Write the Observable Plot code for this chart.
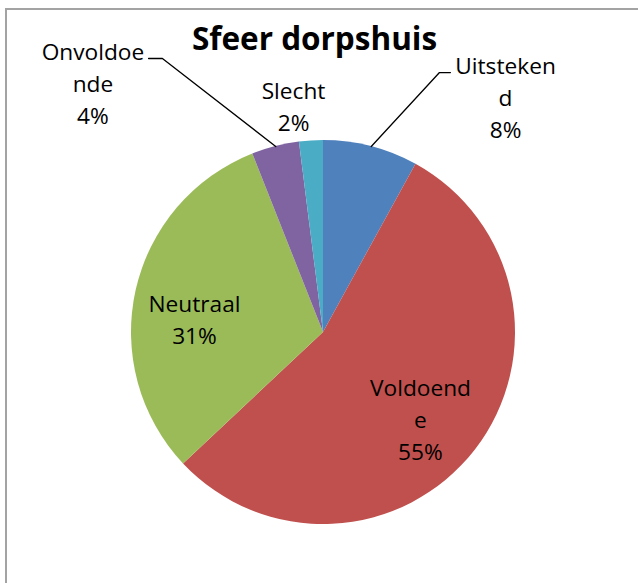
<!DOCTYPE html>
<html>
<head>
<meta charset="utf-8">
<script src="https://cdn.jsdelivr.net/npm/d3@7"></script>
<script src="https://cdn.jsdelivr.net/npm/@observablehq/plot@0.6"></script>
<style>
  html, body { margin: 0; padding: 0; background: #fff; overflow: hidden; }
  #wrap { position: relative; width: 638px; height: 583px; }
  #frame { position: absolute; left: 5px; top: 8px; width: 700px; height: 700px;
           border: 2px solid #a3a3a3; box-sizing: border-box; pointer-events: none; }
  #chart { position: absolute; left: 0; top: 0; }
</style>
</head>
<body>
<div id="wrap"><div id="chart"></div><div id="frame"></div></div>
<script>
// ---- data ----
const title = "Sfeer dorpshuis";
const categories = ["Uitstekend", "Voldoende", "Neutraal", "Onvoldoende", "Slecht"];
const values = [8, 55, 31, 4, 2];
const labelTexts = ["Uitsteken\nd\n8%", "Voldoend\ne\n55%", "Neutraal\n31%", "Onvoldoe\nnde\n4%", "Slecht\n2%"];
const colors = ["#4F81BD", "#C0504D", "#9BBB59", "#8064A2", "#4BACC6"];

// ---- layout (data units, pie radius = 1) ----
const labelAnchor = {
  "Uitstekend":  [0.948, 1.463],
  "Voldoende":   [0.505, -0.214],
  "Neutraal":    [-0.672, 0.225],
  "Onvoldoende": [-1.201, 1.536],
  "Slecht":      [-0.156, 1.333]
};
const leaderBends = {
  "Uitstekend":  [[0.604, 1.354], [0.661, 1.354]],
  "Onvoldoende": [[-0.839, 1.427], [-0.911, 1.427]]
};

const slices = d3.pie().sort(null).value(d => d.value)(
  categories.map((c, i) => ({category: c, value: values[i]}))
);
const table = slices.map((s, i) => ({
  category: s.data.category,
  value: s.data.value,
  startAngle: s.startAngle,
  endAngle: s.endAngle,
  mid: (s.startAngle + s.endAngle) / 2,
  label: labelTexts[i],
  lx: labelAnchor[s.data.category][0],
  ly: labelAnchor[s.data.category][1]
}));

const leaders = [];
for (const d of table) {
  const bends = leaderBends[d.category];
  if (!bends) continue;
  leaders.push({category: d.category, x: Math.sin(d.mid), y: Math.cos(d.mid)});
  for (const [bx, by] of bends) leaders.push({category: d.category, x: bx, y: by});
}

const pieMark = (index, scales) => {
  const sx = scales.x, sy = scales.y;
  const cx = sx(0), cy = sy(0);
  const r = sx(1) - sx(0);
  const arc = d3.arc().innerRadius(0).outerRadius(r);
  const g = d3.create("svg:g").attr("transform", `translate(${cx},${cy})`);
  g.selectAll("path").data(table).join("path")
    .attr("d", d => arc(d))
    .attr("fill", d => scales.color ? scales.color(d.category) : colors[categories.indexOf(d.category)]);
  return g.node();
};

const chart = Plot.plot({
  width: 638,
  height: 583,
  marginLeft: 131,
  marginRight: 123,
  marginTop: 140,
  marginBottom: 59,
  x: {domain: [-1, 1], axis: null},
  y: {domain: [-1, 1], axis: null},
  color: {domain: categories, range: colors},
  style: {fontFamily: "'Open Sans', sans-serif", background: "transparent", overflow: "visible"},
  marks: [
    pieMark,
    Plot.line(leaders, {x: "x", y: "y", z: "category", stroke: "#000", strokeWidth: 1.3}),
    Plot.text(table, {
      x: "lx", y: "ly", text: "label",
      textAnchor: "middle", lineAnchor: "top",
      fontSize: 22.7, lineHeight: 1.41, fill: "#000"
    }),
    Plot.text([title], {
      frameAnchor: "top", text: d => d, dx: -9, dy: -113,
      lineAnchor: "top", textAnchor: "middle",
      fontSize: 31.5, fontWeight: "bold", fill: "#000"
    })
  ]
});
document.getElementById("chart").appendChild(chart);
</script>
</body>
</html>
